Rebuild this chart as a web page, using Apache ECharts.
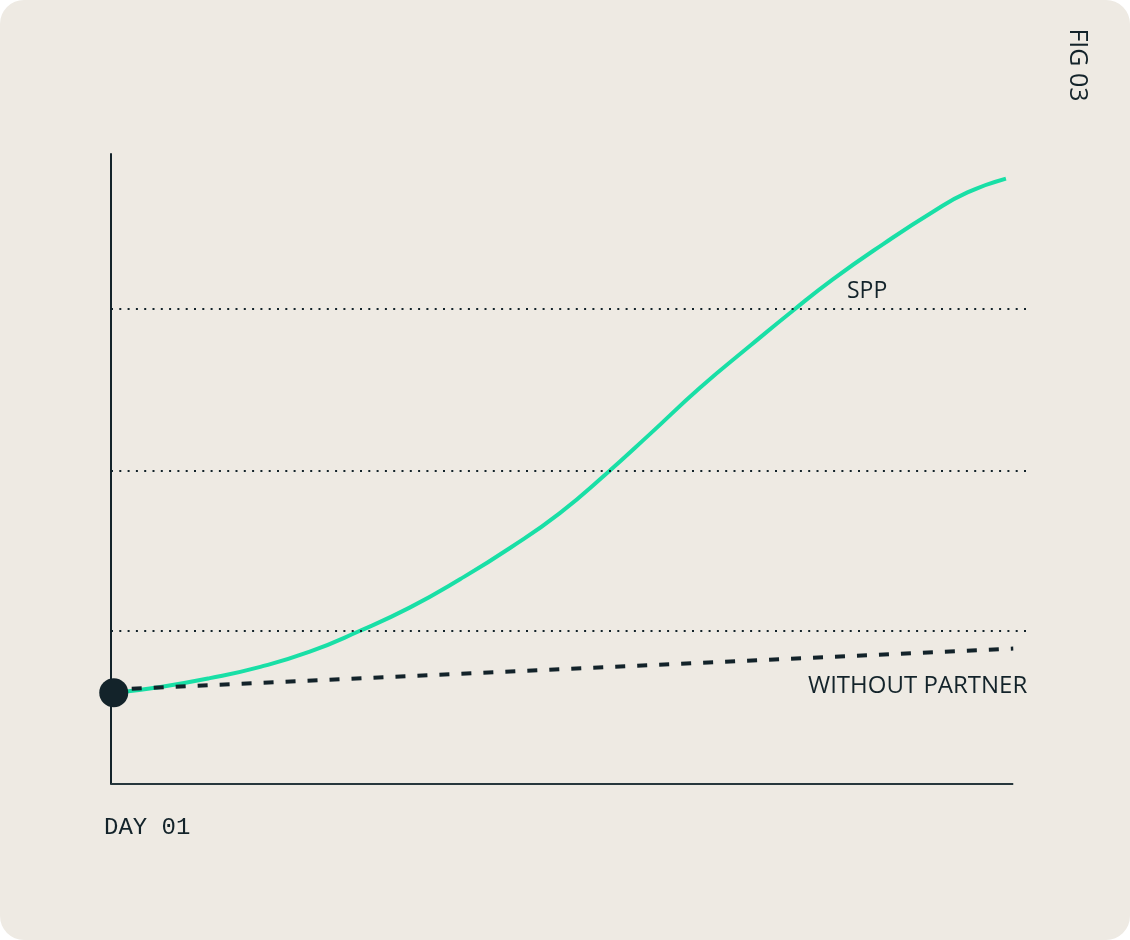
<!DOCTYPE html>
<html>
<head>
<meta charset="utf-8">
<script src="https://cdn.jsdelivr.net/npm/echarts@6/dist/echarts.min.js"></script>
<style>
  html, body { margin: 0; padding: 0; background: #ffffff; }
  #card { width: 1130px; height: 940px; background: #eeeae3; border-radius: 24px; overflow: hidden; }
  #chart { width: 1130px; height: 940px; }
</style>
</head>
<body>
<div id="card"><div id="chart"></div></div>
<script>
// ---- data (x: share of timeline 0..100, y: relative value 0..100) ----
const sppX = [0.5, 5.4, 10.8, 16.3, 21.7, 27.0, 32.6, 38.1, 43.6, 49.0, 54.1, 58.8, 64.3, 69.8, 74.5, 78.8, 84.3, 89.7, 93.5, 97.7];
const sppY = [14.5, 15.4, 16.8, 18.6, 21.0, 24.2, 28.0, 32.5, 37.5, 43.0, 49.3, 55.5, 62.9, 69.6, 75.2, 80.1, 85.7, 90.8, 93.9, 96.1];
const withoutPartnerX = [0.3, 98.5];
const withoutPartnerY = [15.0, 21.5];
const startPoint = [0.3, 14.5];
const gridLevels = [24.3, 49.8, 75.4];
const axisEnd = 98.5;
const seriesNames = ['SPP', 'WITHOUT PARTNER'];
const xStartLabel = 'DAY 01';
const figLabel = 'FIG 03';

const DARK = '#13232a';
const GREEN = '#19dfa6';

const chart = echarts.init(document.getElementById('chart'), null, { renderer: 'canvas' });

const sppData = sppX.map((x, i) => [x, sppY[i]]);
const wpData = withoutPartnerX.map((x, i) => [x, withoutPartnerY[i]]);

chart.setOption({
  animation: false,
  backgroundColor: 'transparent',
  grid: { left: 111, right: 103, top: 154, bottom: 156 },
  xAxis: {
    type: 'value', min: 0, max: 100,
    axisLine: { show: false }, axisTick: { show: false },
    axisLabel: { show: false }, splitLine: { show: false }
  },
  yAxis: {
    type: 'value', min: 0, max: 100,
    axisLine: { show: true, lineStyle: { color: DARK, width: 2 } },
    axisTick: { show: false }, axisLabel: { show: false }, splitLine: { show: false }
  },
  series: [
    {
      name: 'grid',
      type: 'line',
      data: [],
      silent: true,
      markLine: {
        silent: true,
        symbol: ['none', 'none'],
        label: { show: false },
        lineStyle: { color: DARK, width: 2, type: [2, 6.3] },
        data: gridLevels.map(v => ({ yAxis: v }))
      }
    },
    {
      name: 'baseline',
      type: 'line',
      data: [],
      silent: true,
      markLine: {
        silent: true,
        symbol: ['none', 'none'],
        label: { show: false },
        lineStyle: { color: '#27373c', width: 2, type: 'solid' },
        data: [[{ coord: [0, 0] }, { coord: [axisEnd, 0] }]]
      }
    },
    {
      name: seriesNames[0],
      type: 'line',
      data: sppData,
      smooth: 0.5,
      showSymbol: false,
      lineStyle: { color: GREEN, width: 4 },
      z: 3
    },
    {
      name: seriesNames[1],
      type: 'line',
      data: wpData,
      showSymbol: false,
      lineStyle: { color: DARK, width: 4, type: [10, 12], dashOffset: 4 },
      z: 4
    },
    {
      name: 'start',
      type: 'scatter',
      data: [startPoint],
      symbolSize: 29,
      itemStyle: { color: DARK, opacity: 1 },
      z: 5
    }
  ],
  graphic: [
    {
      type: 'text', left: 847, top: 280,
      style: { text: seriesNames[0], fill: DARK, font: '400 23px "Open Sans", "Noto Sans", sans-serif' }
    },
    {
      type: 'text', left: 808, top: 674,
      style: { text: seriesNames[1], fill: DARK, font: '400 24px "Open Sans", "Noto Sans", sans-serif' }
    },
    {
      type: 'text', left: 104, top: 816,
      style: { text: xStartLabel, fill: DARK, font: '400 24px "Liberation Mono", "DejaVu Sans Mono", monospace' }
    },
    {
      type: 'text', x: 1077, y: 65, rotation: -Math.PI / 2,
      style: { text: figLabel, fill: DARK, align: 'center', verticalAlign: 'middle',
               font: '400 25px "Open Sans", "Noto Sans", sans-serif' }
    }
  ]
});
</script>
</body>
</html>
